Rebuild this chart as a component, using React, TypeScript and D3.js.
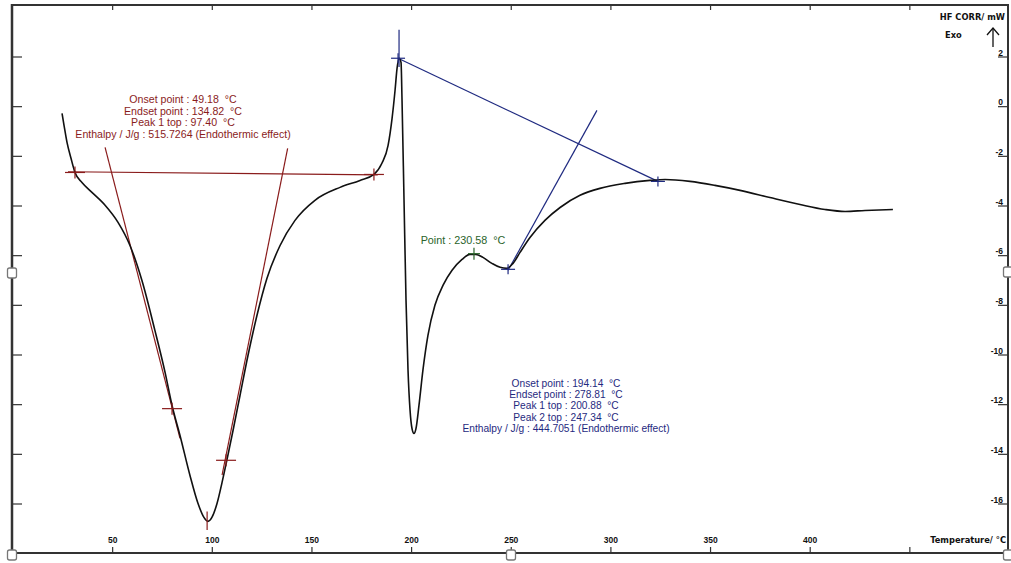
import React from "react";
import * as d3 from "d3";

const temps = [24.6, 25.6, 27.1, 29.1, 31.1, 34.6, 39.6, 46.2, 52.7, 58.7, 64.7, 71.2, 76.3, 79.8, 83.8, 88.8, 92.8, 95.8, 97.8, 99.8, 102.4, 104.9, 107.4, 110.4, 113.9, 117.9, 122.4, 127.4, 134.0, 141.5, 151.5, 164.1, 174.1, 181.1, 185.1, 188.2, 190.2, 191.7, 192.7, 193.7, 194.7, 195.2, 196.2, 197.2, 198.2, 199.2, 200.2, 201.2, 202.2, 203.7, 205.7, 208.2, 211.7, 215.8, 220.3, 225.3, 229.3, 232.3, 235.8, 240.3, 244.4, 247.9, 250.9, 254.4, 259.4, 266.9, 274.5, 284.5, 294.5, 307.1, 319.6, 327.2, 339.7, 352.2, 364.8, 379.8, 394.9, 407.4, 417.5, 427.5, 441.5];
const hfValues = [-0.27, -0.75, -1.44, -2.08, -2.65, -3.05, -3.45, -3.97, -4.66, -5.59, -7.0, -9.01, -10.7, -12.03, -13.24, -14.85, -15.97, -16.54, -16.7, -16.54, -15.97, -15.13, -14.2, -13.04, -11.63, -10.02, -8.41, -6.92, -5.59, -4.58, -3.77, -3.25, -2.97, -2.73, -2.28, -1.56, -0.47, 0.66, 1.54, 1.95, 1.78, 0.25, -3.78, -7.8, -10.6, -12.2, -12.96, -13.16, -12.96, -12.03, -10.6, -9.21, -8.0, -7.19, -6.59, -6.15, -5.95, -5.95, -6.07, -6.31, -6.47, -6.51, -6.31, -5.87, -5.27, -4.58, -4.06, -3.57, -3.29, -3.09, -2.97, -2.93, -3.01, -3.17, -3.37, -3.66, -3.94, -4.14, -4.22, -4.18, -4.14];

const xTicks = [50, 100, 150, 200, 250, 300, 350, 400, 450];
const xTickLabels = ["50", "100", "150", "200", "250", "300", "350", "400", ""];
const yTicks = [2, 0, -2, -4, -6, -8, -10, -12, -14, -16];

const redLines = [
  [[27.6, -2.62], [183.0, -2.75]],
  [[46.2, -1.64], [83.8, -13.36]],
  [[137.8, -1.68], [104.9, -14.84]],
];
const redCrosses = [[31.1, -2.65], [181.1, -2.73], [79.8, -12.16], [106.9, -14.24]];
const redText = [
  "Onset point : 49.18  °C",
  "Endset point : 134.82  °C",
  "Peak 1 top : 97.40  °C",
  "Enthalpy / J/g : 515.7264 (Endothermic effect)",
];

const blueLines = [
  [[193.2, 1.95], [323.6, -3.01]],
  [[248.4, -6.59], [293.0, -0.15]],
];
const blueCrosses = [[193.2, 1.95], [323.6, -3.01], [248.4, -6.55]];
const blueText = [
  "Onset point : 194.14  °C",
  "Endset point : 278.81  °C",
  "Peak 1 top : 200.88  °C",
  "Peak 2 top : 247.34  °C",
  "Enthalpy / J/g : 444.7051 (Endothermic effect)",
];
const greenPoint = [231.3, -5.92];
const greenText = "Point : 230.58  °C";

const RED = "#8a1c1c";
const BLUE = "#1f2a80";
const GREEN = "#2a632a";
const FRAME = "#333";

export default function App() {
  const x = d3.scaleLinear().domain([0, 500]).range([13, 1009.5]);
  const y = d3.scaleLinear().domain([2, -16]).range([57, 504]);
  const pts = temps.map((t, i) => [t, hfValues[i]] as [number, number]);
  const line = d3
    .line<[number, number]>()
    .x((d) => x(d[0]))
    .y((d) => y(d[1]))
    .curve(d3.curveMonotoneX);
  const font = "'Liberation Sans', Arial, sans-serif";
  const wide = "'DejaVu Sans', Verdana, sans-serif";
  const pre = { whiteSpace: "pre" as const };

  const cross = (c: number[], color: string, key: string, hw = 9, hh = 6) => (
    <g key={key} stroke={color} strokeWidth={1.2}>
      <line x1={x(c[0]) - hw} x2={x(c[0]) + hw} y1={y(c[1])} y2={y(c[1])} />
      <line x1={x(c[0])} x2={x(c[0])} y1={y(c[1]) - hh} y2={y(c[1]) + hh} />
    </g>
  );
  const handle = (cx: number, cy: number, key: string) => (
    <rect key={key} x={cx - 4.5} y={cy - 5} width={9} height={10} rx={2} fill="#fff" stroke="#777" strokeWidth={1.3} />
  );

  return (
    <svg width={1011} height={563} style={{ position: "absolute", left: 0, top: 0, background: "#fff" }}>
      <rect x={0} y={0} width={1011} height={563} fill="#fff" />
      {/* frame */}
      <line x1={12} x2={1008} y1={5} y2={5} stroke={FRAME} strokeWidth={2} />
      <line x1={12} x2={12} y1={4} y2={554} stroke={FRAME} strokeWidth={2.5} />
      <line x1={1008} x2={1008} y1={4} y2={554} stroke={FRAME} strokeWidth={2} />
      <line x1={12} x2={1009} y1={553} y2={553} stroke={FRAME} strokeWidth={2} />

      {/* top ticks */}
      {xTicks.map((t) => (
        <line key={"tt" + t} x1={x(t)} x2={x(t)} y1={5} y2={10} stroke={FRAME} strokeWidth={1.2} />
      ))}
      {/* bottom ticks */}
      {xTicks.map((t, i) => (
        <g key={"bt" + t}>
          <line x1={x(t)} x2={x(t)} y1={547} y2={553} stroke={FRAME} strokeWidth={1.2} />
          <text x={x(t)} y={543} textAnchor="middle" fontFamily={font} fontWeight="bold" fontSize={8.5} fill="#111">
            {xTickLabels[i]}
          </text>
        </g>
      ))}
      <text x={1006} y={543} textAnchor="end" fontFamily={wide} fontWeight="bold" fontSize={8.3} fill="#111">
        Temperature/ °C
      </text>

      {/* left ticks */}
      {yTicks.map((v) => (
        <line key={"lt" + v} x1={12} x2={22} y1={y(v)} y2={y(v)} stroke={FRAME} strokeWidth={1.2} />
      ))}
      {/* right ticks */}
      {yTicks.map((v) => (
        <g key={"rt" + v}>
          <line x1={998} x2={1008} y1={y(v)} y2={y(v)} stroke={FRAME} strokeWidth={1.2} />
          <text x={1003} y={y(v) - 1.5} textAnchor="end" fontFamily={font} fontWeight="bold" fontSize={8.5} fill="#111">
            {v}
          </text>
        </g>
      ))}
      <text x={1005} y={20} textAnchor="end" fontFamily={wide} fontWeight="bold" fontSize={8.3} fill="#111">
        HF CORR/ mW
      </text>
      <text x={945} y={38} fontFamily={wide} fontWeight="bold" fontSize={8.3} fill="#111">
        Exo
      </text>
      <g stroke="#111" strokeWidth={1.3} fill="none">
        <line x1={993} x2={993} y1={28} y2={47} />
        <polyline points="987,35 993,28 999,35" />
      </g>

      {/* red annotations */}
      {redLines.map((l, i) => (
        <line key={"rl" + i} x1={x(l[0][0])} y1={y(l[0][1])} x2={x(l[1][0])} y2={y(l[1][1])} stroke={RED} strokeWidth={1.2} />
      ))}
      {/* blue annotations */}
      {blueLines.map((l, i) => (
        <line key={"bl" + i} x1={x(l[0][0])} y1={y(l[0][1])} x2={x(l[1][0])} y2={y(l[1][1])} stroke={BLUE} strokeWidth={1.2} />
      ))}

      {/* curve */}
      <path d={line(pts) || ""} fill="none" stroke="#111" strokeWidth={1.6} />

      {redCrosses.map((c, i) => cross(c, RED, "rc" + i, 10, 6))}
      <line x1={x(97.4)} x2={x(97.4)} y1={y(-16.3)} y2={y(-17.05)} stroke={RED} strokeWidth={1.2} />
      {blueCrosses.map((c, i) => cross(c, BLUE, "bc" + i, 7, 5))}
      <line x1={x(193.7)} x2={x(193.7)} y1={y(3.1)} y2={y(1.6)} stroke={BLUE} strokeWidth={1.2} />
      {cross(greenPoint, GREEN, "gc", 6, 6)}

      {redText.map((s, i) => (
        <text key={"rt" + i} x={183} y={103 + i * 11.6} textAnchor="middle" fontFamily={font} fontSize={10.6} fill={RED} style={pre}>
          {s}
        </text>
      ))}
      {blueText.map((s, i) => (
        <text key={"btx" + i} x={566} y={387 + i * 11.2} textAnchor="middle" fontFamily={font} fontSize={10.2} fill={BLUE} style={pre}>
          {s}
        </text>
      ))}
      <text x={463} y={244} textAnchor="middle" fontFamily={font} fontSize={10.8} fill={GREEN} style={pre}>
        {greenText}
      </text>

      {handle(12, 273, "h1")}
      {handle(12, 555, "h2")}
      {handle(511, 555, "h3")}
      {handle(1008, 555, "h4")}
      {handle(1008, 272, "h5")}
    </svg>
  );
}
